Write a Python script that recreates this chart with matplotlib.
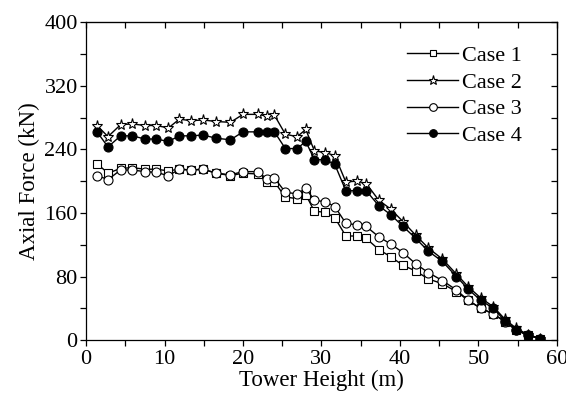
import matplotlib
matplotlib.use("Agg")
import matplotlib.pyplot as plt
from matplotlib.ticker import MultipleLocator

plt.rcParams['font.family'] = ['Liberation Serif', 'DejaVu Serif']
plt.rcParams['mathtext.fontset'] = 'stix'

height = [1.4, 2.8, 4.4, 5.9, 7.5, 8.9, 10.5, 11.9, 13.4, 14.9, 16.6, 18.4, 20.0, 21.9,
          23.0, 24.0, 25.4, 26.9, 28.0, 29.1, 30.5, 31.7, 33.1, 34.5, 35.7, 37.3, 38.8,
          40.4, 42.0, 43.6, 45.4, 47.2, 48.7, 50.3, 51.9, 53.4, 54.8, 56.3, 57.9]

case1 = [222, 210, 216, 217, 215, 215, 213, 215, 214, 215, 210, 207, 210, 209, 199, 199,
         180, 178, 183, 162, 161, 154, 131, 131, 128, 114, 105, 94, 87, 77, 71, 61, 50,
         40, 33, 23, 13, 6, 2]
case2 = [270, 256, 271, 272, 270, 270, 267, 278, 276, 277, 275, 274, 284, 284, 282, 283,
         259, 256, 265, 238, 236, 232, 199, 200, 197, 176, 165, 149, 132, 116, 102, 83, 67,
         53, 42, 26, 15, 7, 2]
case3 = [207, 202, 214, 214, 212, 211, 207, 215, 214, 215, 210, 208, 212, 212, 203, 204,
         186, 184, 191, 176, 174, 168, 147, 145, 143, 130, 121, 110, 96, 85, 75, 63, 50,
         40, 33, 23, 13, 6, 2]
case4 = [262, 243, 257, 257, 253, 253, 250, 257, 257, 258, 254, 252, 262, 262, 262, 262,
         241, 241, 250, 227, 227, 221, 188, 188, 188, 169, 158, 143, 128, 112, 99, 80, 64,
         50, 40, 24, 13, 6, 2]

labels = ['Case 1', 'Case 2', 'Case 3', 'Case 4']

fig = plt.figure(figsize=(5.66, 4.03), dpi=100)
ax = fig.add_axes([0.152, 0.156, 0.832, 0.789])

ax.plot(height, case1, color='black', lw=1.0, marker='s', ms=5.5, mfc='white', mec='black',
        mew=0.8, label=labels[0])
ax.plot(height, case2, color='black', lw=1.0, marker='*', ms=8, mfc='white', mec='black',
        mew=0.8, label=labels[1])
ax.plot(height, case3, color='black', lw=1.0, marker='o', ms=6.5, mfc='white', mec='black',
        mew=0.8, label=labels[2])
ax.plot(height, case4, color='black', lw=1.0, marker='o', ms=6.5, mfc='black', mec='black',
        mew=0.8, label=labels[3])

ax.set_xlim(0, 60)
ax.set_ylim(0, 400)
ax.xaxis.set_major_locator(MultipleLocator(10))
ax.xaxis.set_minor_locator(MultipleLocator(5))
ax.yaxis.set_major_locator(MultipleLocator(80))
ax.yaxis.set_minor_locator(MultipleLocator(40))

ax.tick_params(axis='both', which='both', direction='out', length=4, width=0.9,
               labelsize=16, top=False, right=False)
ax.tick_params(axis='x', pad=3)
ax.tick_params(axis='y', pad=2)
secx = ax.secondary_xaxis('top')
secx.xaxis.set_major_locator(MultipleLocator(5))
secx.tick_params(direction='in', length=4, width=0.9, labeltop=False)
secy = ax.secondary_yaxis('right')
secy.yaxis.set_major_locator(MultipleLocator(40))
secy.tick_params(direction='in', length=4, width=0.9, labelright=False)

for s in ax.spines.values():
    s.set_linewidth(0.9)

ax.set_xlabel('Tower Height (m)', fontsize=16.5, labelpad=1)
ax.set_ylabel('Axial Force (kN)', fontsize=16.5, labelpad=3)

leg = ax.legend(loc='upper right', bbox_to_anchor=(0.967, 0.99), frameon=False,
                fontsize=16, handlelength=2.3, handletextpad=0.15, labelspacing=0.28,
                markerscale=0.85)

fig.savefig('out.png', dpi=100)
